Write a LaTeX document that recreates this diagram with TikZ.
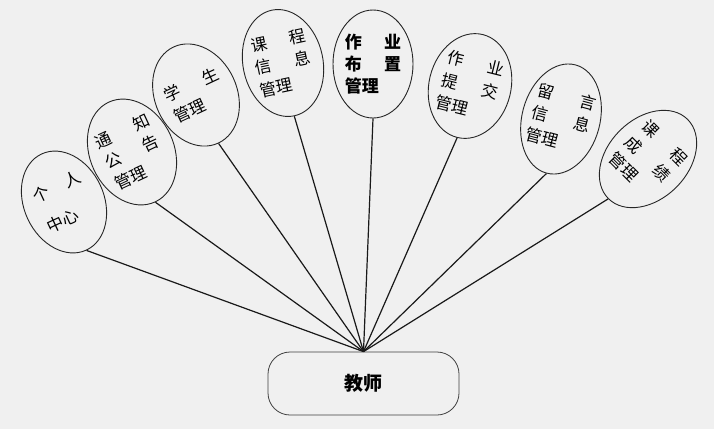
\documentclass[tikz,border=0pt]{standalone}
\usepackage{fontspec}
\newfontfamily\cjk{Noto Sans CJK SC}
\usetikzlibrary{shapes.geometric}
\definecolor{bgcol}{RGB}{240,240,240}

\begin{document}
\begin{tikzpicture}[x=1pt,y=-1pt,
	mod/.style={ellipse,draw=black!85,line width=0.9pt,fill=bgcol,
		minimum width=80,minimum height=106,inner sep=-12pt,align=left,
		font=\cjk\fontsize{16.5}{23}\selectfont},
	link/.style={line width=1.2pt,black!90}]
	\fill[bgcol] (0,0) rectangle (714,429);
	\useasboundingbox (0,0) rectangle (714,429);

	% role box
	\node[draw=black!75,line width=0.8pt,rounded corners=22pt,fill=bgcol,
		minimum width=191,minimum height=63,font=\cjk\bfseries\fontsize{19}{22}\selectfont]
		(jiaoshi) at (363.5,383.5) {教师};

	% function modules
	\node[mod,rotate=25] (geren) at (64,202) {个\hspace{1.1em}人\\[10pt]中心};
	\node[mod,rotate=25,minimum width=84,minimum height=110] (tongzhi) at (132,152) {通\hspace{1.5em}知\\公\hspace{1.5em}告\\管理};
	\node[mod,rotate=25,minimum width=82] (xuesheng) at (196,95) {学\hspace{1.5em}生\\管理};
	\node[mod,rotate=12,minimum height=108] (kecheng) at (283,63) {课\hspace{1.4em}程\\信\hspace{1.4em}息\\管理};
	\node[mod,minimum height=108,font=\cjk\bfseries\fontsize{17}{22}\selectfont] (buzhi) at (373,64) {作\hspace{1.3em}业\\布\hspace{1.3em}置\\管理};
	\node[mod,rotate=-14,minimum width=82] (tijiao) at (470,86) {作\hspace{1.5em}业\\提\hspace{1.5em}交\\管理};
	\node[mod,rotate=-15,minimum width=78,minimum height=112] (liuyan) at (561,119) {留\hspace{1.6em}言\\信\hspace{1.6em}息\\管理};
	\node[mod,rotate=-45,minimum width=80,minimum height=112] (chengji) at (648,159) {课\hspace{1.4em}程\\成\hspace{1.4em}绩\\管理};

	% connectors
	\foreach \m in {geren,tongzhi,xuesheng,kecheng,buzhi,tijiao,liuyan,chengji}
		\draw[link] (jiaoshi.north) -- (\m.south);
\end{tikzpicture}
\end{document}
